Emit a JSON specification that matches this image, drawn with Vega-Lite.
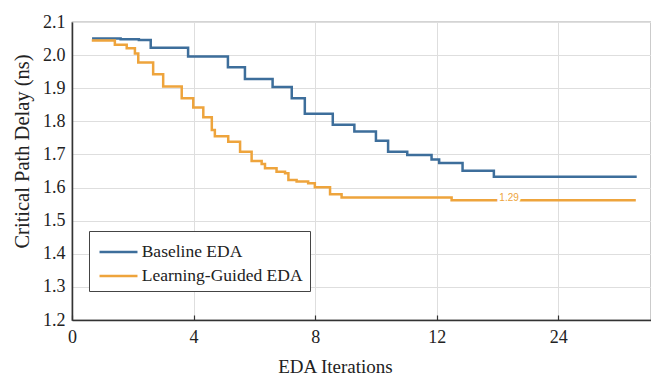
{
  "$schema": "https://vega.github.io/schema/vega-lite/v6.json",
  "autosize": {"type": "none"},
  "padding": {"left": 72, "top": 22, "right": 0, "bottom": 56},
  "width": 579,
  "height": 298,
  "background": "white",
  "config": {
    "view": {"stroke": "#555", "strokeWidth": 1.2},
    "font": "Liberation Serif",
    "axis": {"labelFont": "Liberation Serif", "titleFont": "Liberation Serif"},
    "legend": {"labelFont": "Liberation Serif"}
  },
  "datasets": {
    "curves": [
      {"series": "Baseline EDA", "x": 0.66, "y": 2.05},
      {"series": "Baseline EDA", "x": 1.6, "y": 2.048},
      {"series": "Baseline EDA", "x": 2.2, "y": 2.046},
      {"series": "Baseline EDA", "x": 2.59, "y": 2.022},
      {"series": "Baseline EDA", "x": 3.82, "y": 1.996},
      {"series": "Baseline EDA", "x": 5.13, "y": 1.963},
      {"series": "Baseline EDA", "x": 5.69, "y": 1.928},
      {"series": "Baseline EDA", "x": 6.6, "y": 1.904},
      {"series": "Baseline EDA", "x": 7.23, "y": 1.87},
      {"series": "Baseline EDA", "x": 7.66, "y": 1.823},
      {"series": "Baseline EDA", "x": 8.58, "y": 1.79},
      {"series": "Baseline EDA", "x": 9.29, "y": 1.769},
      {"series": "Baseline EDA", "x": 10.0, "y": 1.741},
      {"series": "Baseline EDA", "x": 10.4, "y": 1.708},
      {"series": "Baseline EDA", "x": 11.03, "y": 1.698},
      {"series": "Baseline EDA", "x": 11.83, "y": 1.685},
      {"series": "Baseline EDA", "x": 12.08, "y": 1.674},
      {"series": "Baseline EDA", "x": 12.85, "y": 1.651},
      {"series": "Baseline EDA", "x": 13.88, "y": 1.633},
      {"series": "Baseline EDA", "x": 18.58, "y": 1.633},
      {"series": "Learning-Guided EDA", "x": 0.65, "y": 2.044},
      {"series": "Learning-Guided EDA", "x": 1.41, "y": 2.031},
      {"series": "Learning-Guided EDA", "x": 1.8, "y": 2.021},
      {"series": "Learning-Guided EDA", "x": 2.07, "y": 2.005},
      {"series": "Learning-Guided EDA", "x": 2.18, "y": 1.978},
      {"series": "Learning-Guided EDA", "x": 2.67, "y": 1.942},
      {"series": "Learning-Guided EDA", "x": 3.0, "y": 1.905},
      {"series": "Learning-Guided EDA", "x": 3.61, "y": 1.87},
      {"series": "Learning-Guided EDA", "x": 3.99, "y": 1.842},
      {"series": "Learning-Guided EDA", "x": 4.32, "y": 1.812},
      {"series": "Learning-Guided EDA", "x": 4.6, "y": 1.774},
      {"series": "Learning-Guided EDA", "x": 4.7, "y": 1.755},
      {"series": "Learning-Guided EDA", "x": 5.14, "y": 1.738},
      {"series": "Learning-Guided EDA", "x": 5.53, "y": 1.708},
      {"series": "Learning-Guided EDA", "x": 5.91, "y": 1.68},
      {"series": "Learning-Guided EDA", "x": 6.24, "y": 1.671},
      {"series": "Learning-Guided EDA", "x": 6.35, "y": 1.658},
      {"series": "Learning-Guided EDA", "x": 6.73, "y": 1.648},
      {"series": "Learning-Guided EDA", "x": 7.01, "y": 1.643},
      {"series": "Learning-Guided EDA", "x": 7.12, "y": 1.623},
      {"series": "Learning-Guided EDA", "x": 7.39, "y": 1.618},
      {"series": "Learning-Guided EDA", "x": 7.77, "y": 1.613},
      {"series": "Learning-Guided EDA", "x": 7.99, "y": 1.601},
      {"series": "Learning-Guided EDA", "x": 8.49, "y": 1.58},
      {"series": "Learning-Guided EDA", "x": 8.87, "y": 1.57},
      {"series": "Learning-Guided EDA", "x": 12.49, "y": 1.562},
      {"series": "Learning-Guided EDA", "x": 18.55, "y": 1.562}
    ],
    "note": [
      {"x": 14.38, "y": 1.562, "t": "1.29"}
    ]
  },
  "encoding": {
    "x": {
      "field": "x", "type": "quantitative",
      "scale": {"domain": [0, 19.05], "nice": false, "zero": false},
      "axis": {
        "title": "EDA Iterations",
        "values": [0, 4, 8, 12, 16],
        "labelExpr": "datum.value == 16 ? '24' : datum.label",
        "labelFont": "Liberation Serif", "labelFontSize": 18, "labelColor": "#222",
        "labelPadding": 13, "labelOverlap": false, "labelFlush": false,
        "ticks": true, "tickSize": -5, "tickColor": "#333", "tickWidth": 1.2,
        "grid": true, "gridColor": "#dedede", "gridWidth": 1,
        "domainColor": "#333", "domainWidth": 1.5,
        "titleFont": "Liberation Serif", "titleFontSize": 19, "titleFontWeight": "normal", "titleColor": "#222",
        "titleX": 263, "titleY": 52, "titleAlign": "center", "titleBaseline": "alphabetic", "titleAnchor": null
      }
    },
    "y": {
      "field": "y", "type": "quantitative",
      "scale": {"domain": [1.2, 2.1], "nice": false, "zero": false},
      "axis": {
        "title": "Critical Path Delay (ns)",
        "values": [1.2, 1.3, 1.4, 1.5, 1.6, 1.7, 1.8, 1.9, 2.0, 2.1],
        "format": ".1f",
        "labelFont": "Liberation Serif", "labelFontSize": 18, "labelColor": "#222",
        "labelPadding": 7, "labelOverlap": false, "labelFlush": false,
        "ticks": false,
        "grid": true, "gridColor": "#dedede", "gridWidth": 1,
        "domainColor": "#333", "domainWidth": 1.5,
        "titleFont": "Liberation Serif", "titleFontSize": 20.5, "titleFontWeight": "normal", "titleColor": "#222",
        "titleX": -50, "titleY": 129, "titleAngle": -90, "titleAlign": "center", "titleBaseline": "middle", "titleAnchor": null
      }
    }
  },
  "layer": [
    {
      "data": {"name": "curves"},
      "mark": {"type": "line", "interpolate": "step-after", "strokeWidth": 2.5},
      "encoding": {
        "color": {
          "field": "series", "type": "nominal",
          "scale": {"domain": ["Baseline EDA", "Learning-Guided EDA"], "range": ["#3d6e9b", "#eea43c"]},
          "legend": {
            "title": null,
            "orient": "none",
            "legendX": 17,
            "legendY": 209,
            "direction": "vertical",
            "strokeColor": "#444",
            "fillColor": "white",
            "padding": 6.5,
            "symbolType": "M-1.46,0H1.46",
            "symbolSize": 676,
            "symbolStrokeWidth": 2.5,
            "symbolFillColor": "transparent",
            "symbolOffset": 8.5,
            "labelFont": "Liberation Serif",
            "labelFontSize": 17.5,
            "labelColor": "#222",
            "labelOffset": 8.7,
            "labelLimit": 300,
            "rowPadding": 1
          }
        }
      }
    },
    {
      "data": {"name": "note"},
      "mark": {"type": "text", "font": "Liberation Sans", "fontSize": 10, "baseline": "middle", "dy": -2, "stroke": "white", "strokeWidth": 5, "fill": "white"},
      "encoding": {
        "text": {"field": "t"}
      }
    },
    {
      "data": {"name": "note"},
      "mark": {"type": "text", "font": "Liberation Sans", "fontSize": 10, "baseline": "middle", "dy": -2, "color": "#eea43c"},
      "encoding": {
        "text": {"field": "t"}
      }
    }
  ]
}
